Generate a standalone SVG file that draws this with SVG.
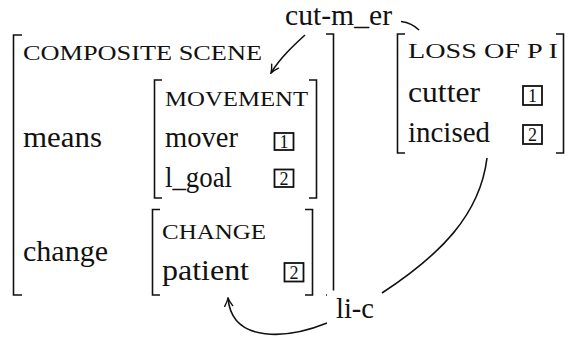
<svg xmlns="http://www.w3.org/2000/svg" width="568" height="339" viewBox="0 0 568 339">
  <style>
    .t { font-family: "Liberation Serif", "DejaVu Serif", serif; font-size: 29px; fill: #111; }
    .sc { font-family: "Liberation Serif", "DejaVu Serif", serif; font-size: 20px; fill: #111; }
    .num { font-family: "Liberation Serif", "DejaVu Serif", serif; font-size: 18px; text-anchor: middle; fill: #111; }
    .br { fill: none; stroke: #111; stroke-width: 1.6; }
    .box { fill: none; stroke: #111; stroke-width: 1.8; }
    .conn { fill: none; stroke: #111; stroke-width: 1.6; }
  </style>
  <defs>
    <marker id="arrow" viewBox="-9 -5 10 10" refX="0" refY="0" markerWidth="10" markerHeight="10" markerUnits="userSpaceOnUse" orient="auto">
      <path d="M-8,-4 Q-3,-0.8 0,0 Q-3,0.8 -8,4" fill="none" stroke="#111" stroke-width="1.4" stroke-linecap="round"/>
    </marker>
  </defs>
  <rect width="568" height="339" fill="#fff"/>

  <!-- composite scene structure -->
  <g id="composite">
    <path class="br" d="M22,35 H13.5 V295 H22"/>
    <path class="br" d="M326,34 H333.5 V295 H326"/>
    <text class="sc" x="23" y="60" textLength="239" lengthAdjust="spacingAndGlyphs">COMPOSITE SCENE</text>
    <text class="t" x="23" y="147" textLength="79" lengthAdjust="spacingAndGlyphs">means</text>
    <text class="t" x="23" y="261" textLength="85" lengthAdjust="spacingAndGlyphs">change</text>
  </g>

  <!-- movement sub-structure -->
  <g id="movement">
    <path class="br" d="M162,80 H154.5 V198 H162"/>
    <path class="br" d="M309,80 H316.5 V198 H309"/>
    <text class="sc" x="165" y="106" textLength="143" lengthAdjust="spacingAndGlyphs">MOVEMENT</text>
    <text class="t" x="165" y="147" textLength="73" lengthAdjust="spacingAndGlyphs">mover</text>
    <rect class="box" x="274.5" y="133" width="19" height="17"/>
    <text class="num" x="284" y="147.5">1</text>
    <text class="t" x="165" y="187" textLength="67" lengthAdjust="spacingAndGlyphs">l_goal</text>
    <rect class="box" x="274.5" y="169.5" width="19" height="17.5"/>
    <text class="num" x="284" y="184.5">2</text>
  </g>

  <!-- change sub-structure -->
  <g id="change">
    <path class="br" d="M160,209.5 H152.5 V295 H160"/>
    <path class="br" d="M305,209.5 H312.5 V295 H305"/>
    <text class="sc" x="162" y="239" textLength="104" lengthAdjust="spacingAndGlyphs">CHANGE</text>
    <text class="t" x="162" y="280" textLength="87" lengthAdjust="spacingAndGlyphs">patient</text>
    <rect class="box" x="284.5" y="263" width="19" height="18.5"/>
    <text class="num" x="294" y="278.5">2</text>
  </g>

  <!-- loss of physical integrity structure -->
  <g id="loss">
    <path class="br" d="M405,34 H397.5 V153 H405"/>
    <path class="br" d="M556,34 H563.5 V153 H556"/>
    <text class="sc" x="408" y="58" textLength="150" lengthAdjust="spacingAndGlyphs">LOSS OF P I</text>
    <text class="t" x="408" y="102" textLength="72" lengthAdjust="spacingAndGlyphs">cutter</text>
    <rect class="box" x="523" y="86" width="19" height="19"/>
    <text class="num" x="532.5" y="101.5">1</text>
    <text class="t" x="408" y="142" textLength="82" lengthAdjust="spacingAndGlyphs">incised</text>
    <rect class="box" x="523" y="125" width="19" height="19"/>
    <text class="num" x="532.5" y="140.5">2</text>
  </g>

  <!-- connectors -->
  <g id="connectors">
    <path class="conn" d="M305,35 C293,46 280,58 271,73" marker-end="url(#arrow)"/>
    <path class="conn" d="M401,21.5 Q412,23 419,30"/>
    <path class="conn" d="M327,323 C290,338 232,345 228,298" marker-end="url(#arrow)"/>
    <path class="conn" d="M382,293 C440,255 480,215 487,158"/>
  </g>

  <!-- lexical unit labels -->
  <g id="cut-mover">
    <text class="t" x="285" y="25" textLength="107" lengthAdjust="spacingAndGlyphs">cut-m_er</text>
  </g>
  <g id="li-c">
    <rect x="327" y="290.5" width="54" height="34" fill="#fff"/>
    <text class="t" x="336" y="318" textLength="38" lengthAdjust="spacingAndGlyphs">li-c</text>
  </g>
</svg>
